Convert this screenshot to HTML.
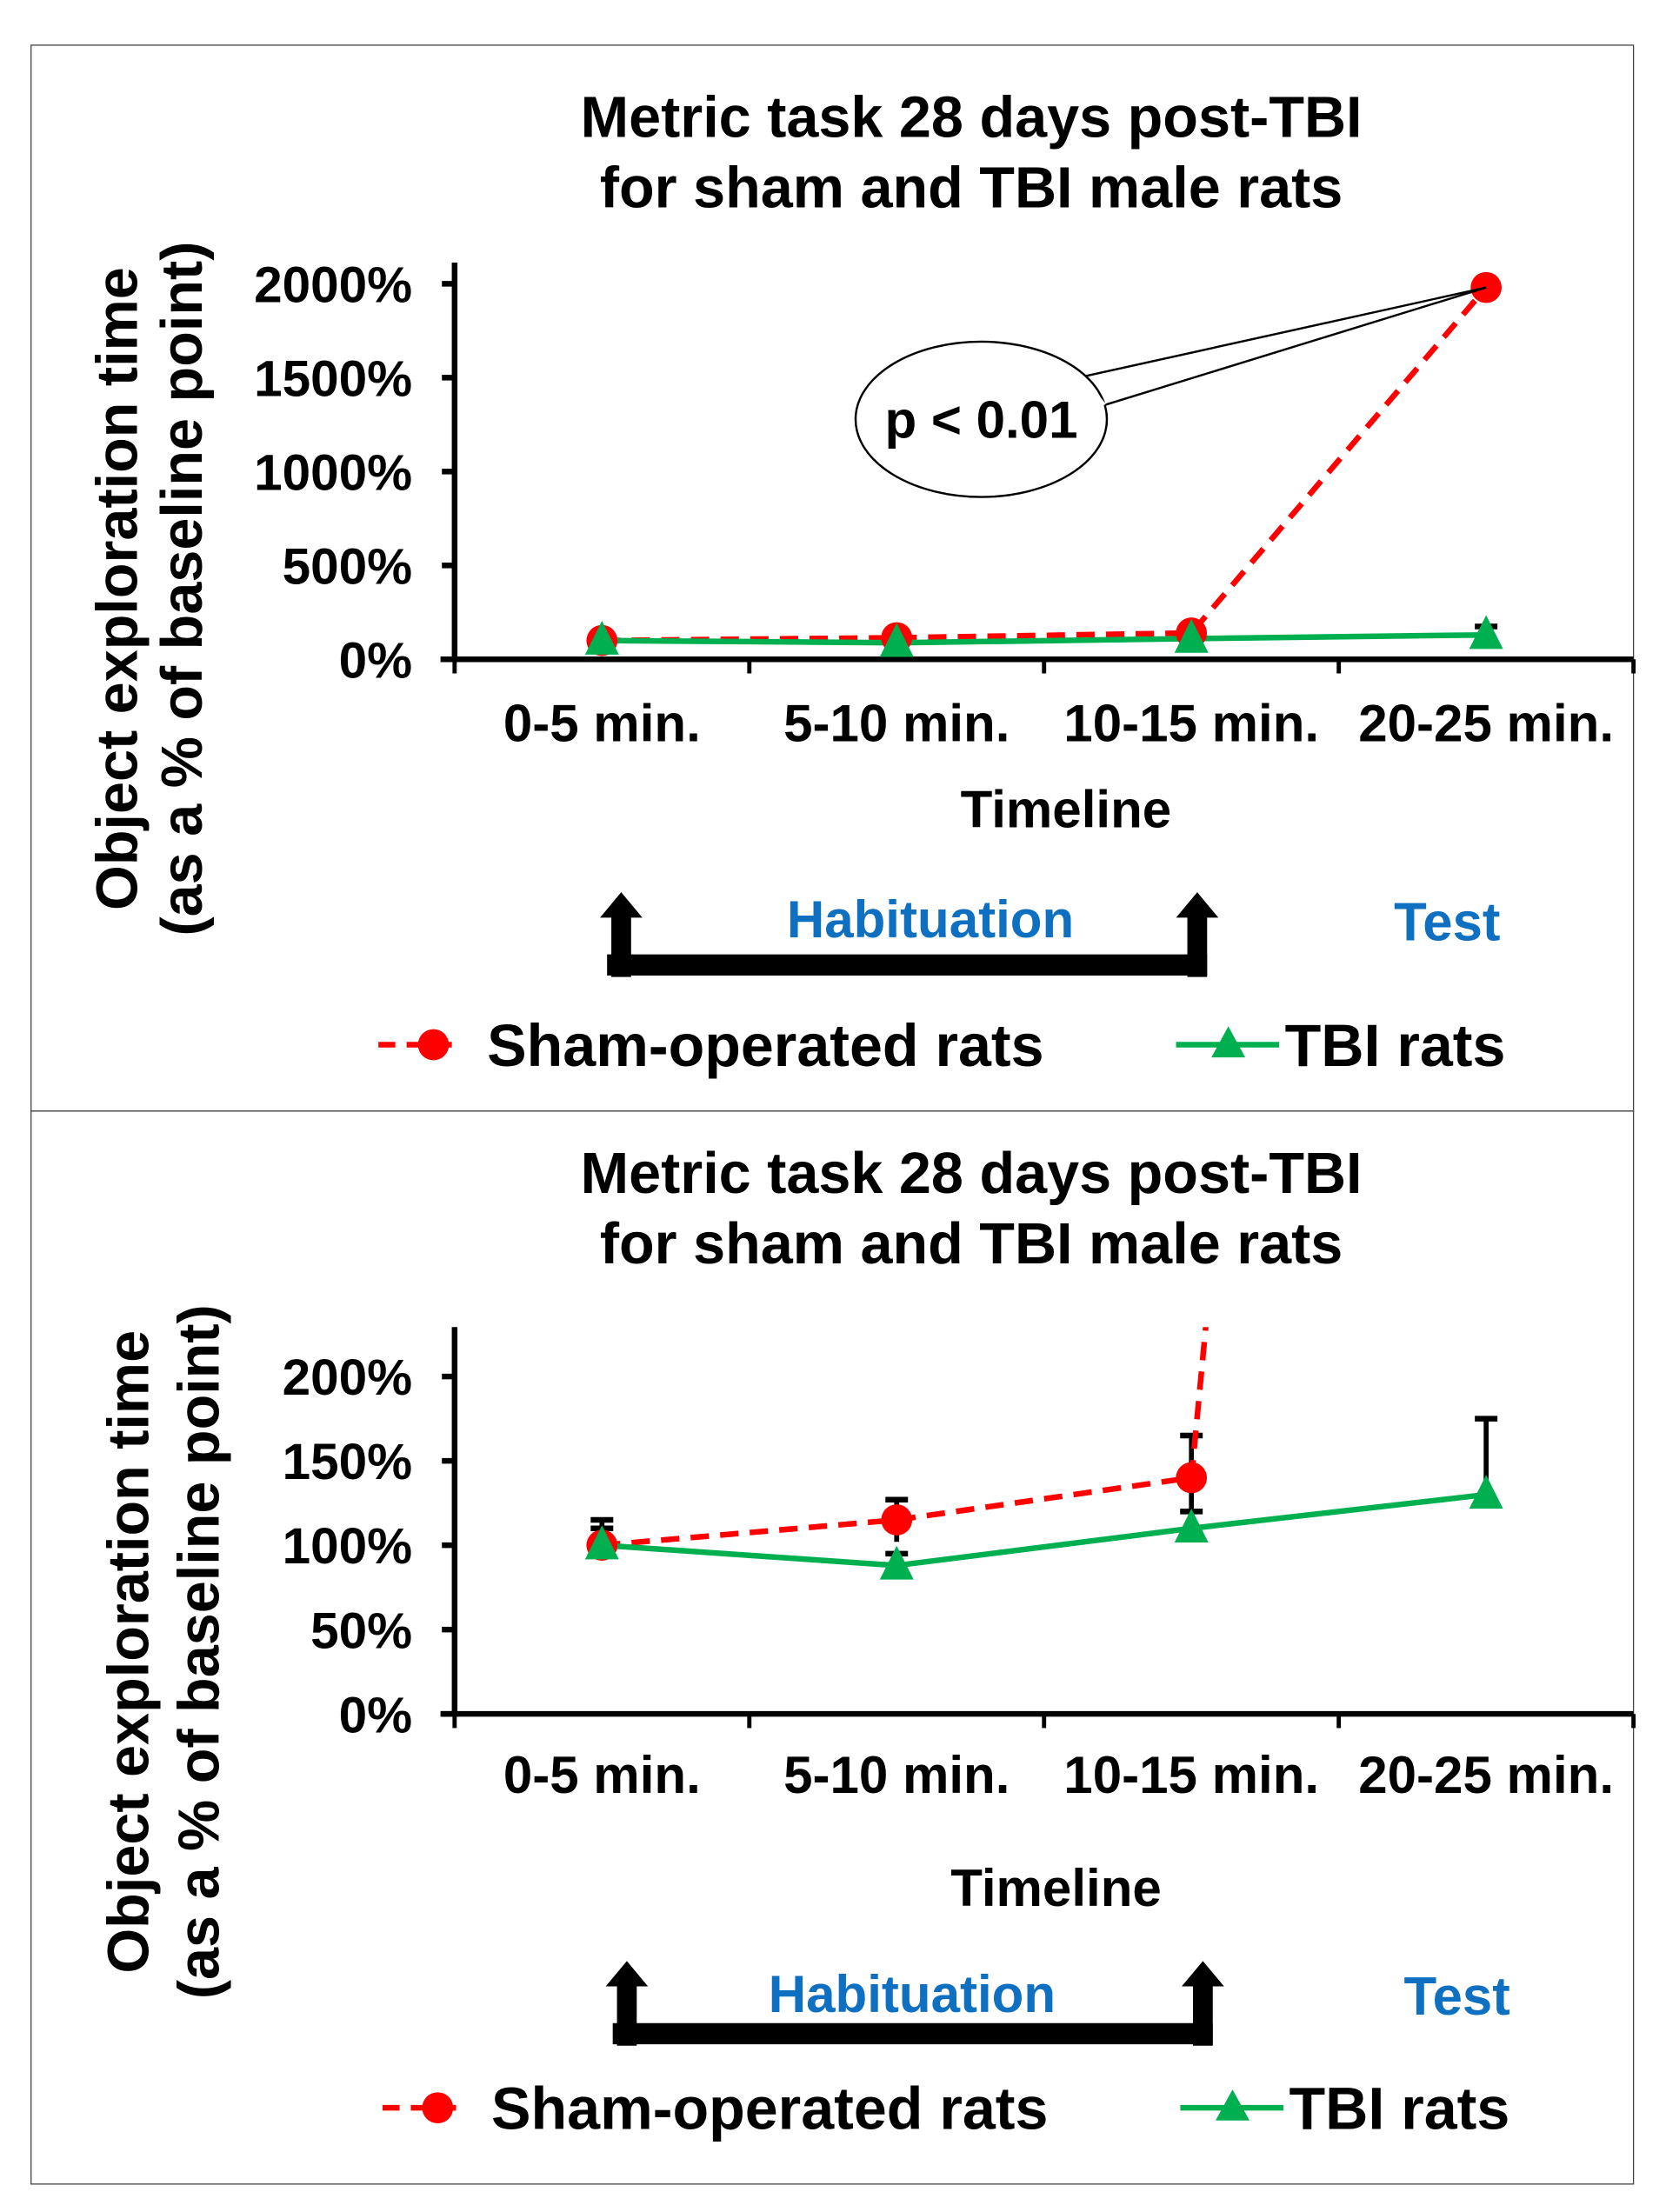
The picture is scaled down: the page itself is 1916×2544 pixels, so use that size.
<!DOCTYPE html>
<html><head><meta charset="utf-8"><style>
html,body{margin:0;padding:0;background:#fff;}
svg{display:block;}
text{font-family:"Liberation Sans",Arial,sans-serif;font-weight:bold;}
</style></head><body>
<svg id="fig" width="1916" height="2544" viewBox="0 0 1916 2544" xmlns="http://www.w3.org/2000/svg">
<g id="root" transform="scale(1.6237)"></g>
</svg>
<script>
const categories = ["0-5 min.", "5-10 min.", "10-15 min.", "20-25 min."];
const shamValues = [100, 115, 140, 1980];
const tbiValues = [100, 88, 110, 130];
const shamErrTop = [115, 127, 165, 1990];
const shamErrBottom = [100, 102, 118, 1980];
const tbiErrTop = [110, 95, 120, 175];
const topTicks = [0, 500, 1000, 1500, 2000];
const topTickLabels = ["0%", "500%", "1000%", "1500%", "2000%"];
const botTicks = [0, 50, 100, 150, 200];
const botTickLabels = ["0%", "50%", "100%", "150%", "200%"];

const NS = "http://www.w3.org/2000/svg";
const root = document.getElementById('root');
function mk(tag, attrs, parent, txt){
  const e = document.createElementNS(NS, tag);
  for (const k in attrs) e.setAttribute(k, attrs[k]);
  if (txt !== undefined) e.textContent = txt;
  (parent || root).appendChild(e);
  return e;
}

function panel(off, cfg){
  const g = mk('g', {transform: 'translate(0,' + off + ')'});
  
  
  const x0 = 322, x1 = 1157, catW = (x1 - x0) / 4;
  const xs = i => x0 + catW * (i + 0.5);
  const ys = v => cfg.y0 - (v - cfg.vmin) * (cfg.y0 - cfg.yMaxPx) / (cfg.vmax - cfg.vmin);

  let t = mk('text', {x: 688, y: 97, 'font-size': 41, 'text-anchor': 'middle'}, g, 'Metric task 28 days post-TBI');
  
  
  t = mk('text', {x: 688, y: 147, 'font-size': 41, 'text-anchor': 'middle'}, g, 'for sham and TBI male rats');
  
  

  const yt = mk('g', {transform: 'translate(' + cfg.ytX + ',' + cfg.ytY + ') rotate(-90)'}, g);
  
  
  mk('text', {x: 0, y: 0, 'font-size': 41, 'text-anchor': 'middle'}, yt, 'Object exploration time');
  mk('text', {x: 0, y: cfg.ytGap, 'font-size': 41, 'text-anchor': 'middle'}, yt, '(as a % of baseline point)');

  let a = mk('line', {x1: x0, y1: cfg.axTop, x2: x0, y2: cfg.y0 + 2, stroke: '#000', 'stroke-width': 4}, g);
  
  
  a = mk('line', {x1: x0 - 10, y1: cfg.y0, x2: x1, y2: cfg.y0, stroke: '#000', 'stroke-width': 4}, g);
  
  
  cfg.ticks.forEach((v, i) => {
    const y = ys(v);
    mk('line', {x1: x0 - 9, y1: y, x2: x0, y2: y, stroke: '#000', 'stroke-width': 4}, g);
    const l = mk('text', {x: 292, y: y + 13, 'font-size': 36, 'text-anchor': 'end'}, g, cfg.tickLabels[i]);
    
    
  });
  for (let i = 0; i <= 4; i++) {
    const x = x0 + catW * i;
    mk('line', {x1: x, y1: cfg.y0, x2: x, y2: cfg.y0 + 10, stroke: '#000', 'stroke-width': 3}, g);
  }
  categories.forEach((c, i) => {
    const l = mk('text', {x: xs(i), y: cfg.catY, 'font-size': 37, 'text-anchor': 'middle'}, g, c);
    
    
  });
  t = mk('text', {x: cfg.tlX, y: cfg.tlY, 'font-size': 37, 'text-anchor': 'middle'}, g, 'Timeline');
  
  

  const cid = 'clip' + off;
  const cp = mk('clipPath', {id: cid}, g);
  mk('rect', {x: x0, y: cfg.axTop, width: x1 - x0, height: cfg.y0 - cfg.axTop + 20}, cp);
  const pg = mk('g', {'clip-path': 'url(#' + cid + ')'}, g);

  const eb = (i, lo, hi) => {
    if (hi <= lo) return;
    const e = mk('line', {x1: xs(i), y1: ys(lo), x2: xs(i), y2: ys(hi), stroke: '#000', 'stroke-width': 3.5}, pg);
    
    
    mk('line', {x1: xs(i) - 8, y1: ys(hi), x2: xs(i) + 8, y2: ys(hi), stroke: '#000', 'stroke-width': 4}, pg);
  };
  if (cfg.showErr) {
    shamValues.forEach((v, i) => { if (i < 3) eb(i, shamErrBottom[i], shamErrTop[i]); });
    tbiValues.forEach((v, i) => eb(i, v, tbiErrTop[i]));
  } else {
    eb(3, tbiValues[3], tbiErrTop[3]);
  }

  let pts = shamValues.map((v, i) => xs(i) + ',' + ys(v)).join(' ');
  let s = mk('polyline', {points: pts, fill: 'none', stroke: '#ff0000', 'stroke-width': 4, 'stroke-dasharray': '13,8'}, pg);
  
  
  pts = tbiValues.map((v, i) => xs(i) + ',' + ys(v)).join(' ');
  s = mk('polyline', {points: pts, fill: 'none', stroke: '#00b050', 'stroke-width': 4}, pg);
  
  
  shamValues.forEach((v, i) => {
    const c = mk('circle', {cx: xs(i), cy: ys(v), r: 11, fill: '#ff0000'}, pg);
    
    
  });
  tbiValues.forEach((v, i) => {
    const x = xs(i), y = ys(v);
    const p = mk('polygon', {points: (x) + ',' + (y - 14) + ' ' + (x - 12) + ',' + (y + 10) + ' ' + (x + 12) + ',' + (y + 10), fill: '#00b050'}, pg);
    
    
  });

  if (cfg.callout) {
    const cg = mk('g', {}, g);
    
    
    const px = xs(3), py = ys(shamValues[3]);
    mk('polygon', {points: '766,267 ' + px + ',' + py + ' 782,287', fill: '#fff', stroke: '#000', 'stroke-width': 1.5}, cg);
    mk('ellipse', {cx: 695, cy: 297, rx: 89, ry: 55, fill: '#fff', stroke: '#000', 'stroke-width': 1.5}, cg);
    mk('line', {x1: 766, y1: 267, x2: 782, y2: 287, stroke: '#fff', 'stroke-width': 3}, cg);
    mk('text', {x: 695, y: 310, 'font-size': 37, 'text-anchor': 'middle'}, cg, 'p < 0.01');
  }

  const hb = mk('g', {}, g);
  
  
  const bx1 = cfg.bx1, bx2 = cfg.bx2, bt = cfg.bt;
  mk('rect', {x: bx1 - 7, y: bt + 16, width: 14, height: 44, fill: '#000'}, hb);
  mk('rect', {x: bx2 - 7, y: bt + 16, width: 14, height: 44, fill: '#000'}, hb);
  mk('rect', {x: bx1 - 10, y: bt + 44, width: bx2 - bx1 + 17, height: 15, fill: '#000'}, hb);
  mk('polygon', {points: (bx1 - 15) + ',' + (bt + 18) + ' ' + bx1 + ',' + bt + ' ' + (bx1 + 15) + ',' + (bt + 18), fill: '#000'}, hb);
  mk('polygon', {points: (bx2 - 15) + ',' + (bt + 18) + ' ' + bx2 + ',' + bt + ' ' + (bx2 + 15) + ',' + (bt + 18), fill: '#000'}, hb);
  t = mk('text', {x: cfg.habX, y: cfg.habY, 'font-size': 37, 'text-anchor': 'middle', fill: '#0f6fc0'}, g, 'Habituation');
  
  
  t = mk('text', {x: cfg.testX, y: cfg.habY + 2, 'font-size': 38, 'text-anchor': 'middle', fill: '#0f6fc0'}, g, 'Test');
  
  

  const ly = cfg.legY;
  let le = mk('g', {}, g);
  
  
  mk('line', {x1: cfg.legX, y1: ly, x2: cfg.legX + 57, y2: ly, stroke: '#ff0000', 'stroke-width': 4, 'stroke-dasharray': '12,8'}, le);
  mk('circle', {cx: cfg.legX + 39, cy: ly, r: 11, fill: '#ff0000'}, le);
  mk('text', {x: cfg.legX + 77, y: ly + 15, 'font-size': 42}, le, 'Sham-operated rats');
  le = mk('g', {}, g);
  
  
  mk('line', {x1: cfg.legX + 565, y1: ly, x2: cfg.legX + 638, y2: ly, stroke: '#00b050', 'stroke-width': 4}, le);
  const tx = cfg.legX + 602;
  mk('polygon', {points: tx + ',' + (ly - 13) + ' ' + (tx - 12) + ',' + (ly + 9) + ' ' + (tx + 12) + ',' + (ly + 9), fill: '#00b050'}, le);
  mk('text', {x: cfg.legX + 642, y: ly + 15, 'font-size': 42}, le, 'TBI rats');
}

let b = mk('rect', {x: 22, y: 32, width: 1135, height: 755, fill: 'none', stroke: '#444', 'stroke-width': 0.8});


b = mk('rect', {x: 22, y: 787, width: 1135, height: 760, fill: 'none', stroke: '#444', 'stroke-width': 0.8});



panel(0, {name: 'top-chart', y0: 467, yMaxPx: 201, vmin: 0, vmax: 2000, axTop: 186,
  ticks: topTicks, tickLabels: topTickLabels, catY: 525, tlX: 755, tlY: 586,
  ytX: 97, ytY: 417, ytGap: 46, showErr: false, callout: true,
  bx1: 440, bx2: 848, bt: 632, habX: 659, habY: 664, testX: 1025, legY: 740, legX: 268});
panel(748, {name: 'bottom-chart', y0: 466, yMaxPx: 227, vmin: 0, vmax: 200, axTop: 192,
  ticks: botTicks, tickLabels: botTickLabels, catY: 522, tlX: 748, tlY: 602,
  ytX: 105, ytY: 422, ytGap: 50, showErr: true, callout: false,
  bx1: 444, bx2: 852, bt: 641, habX: 646, habY: 677, testX: 1032, legY: 745, legX: 271});
</script>
</body></html>
